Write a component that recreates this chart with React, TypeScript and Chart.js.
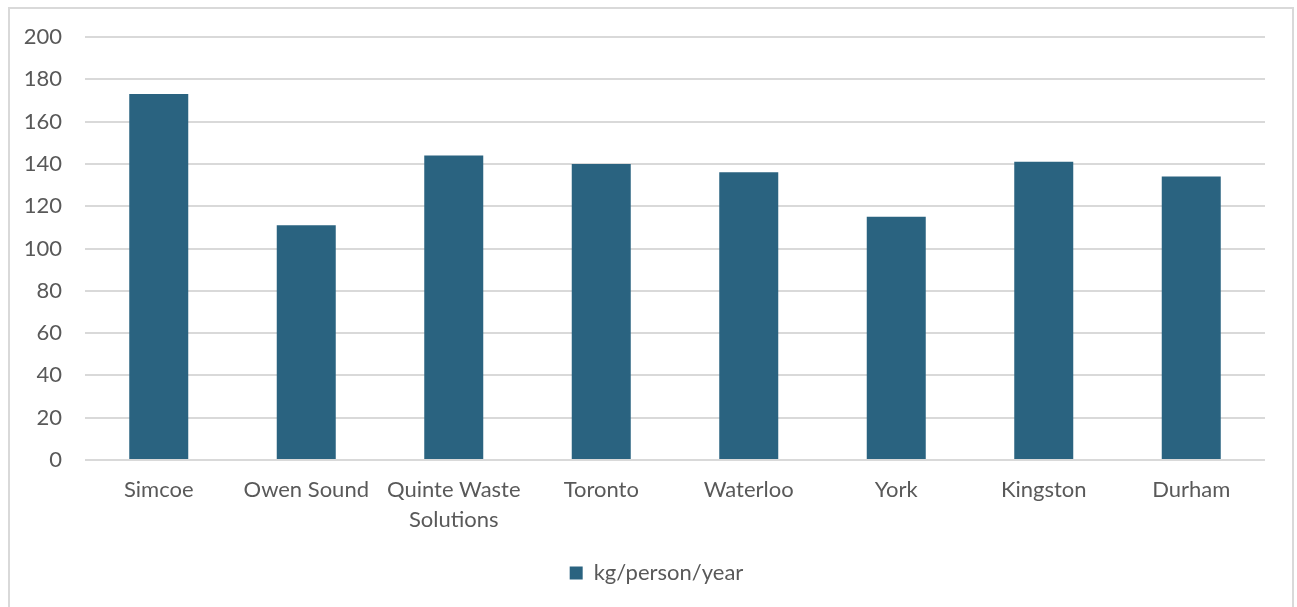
import React, { useEffect, useRef } from "react";
import { Chart, registerables } from "chart.js";

Chart.register(...registerables);

const categories: (string | string[])[] = [
  "Simcoe",
  "Owen Sound",
  ["Quinte Waste", "Solutions"],
  "Toronto",
  "Waterloo",
  "York",
  "Kingston",
  "Durham",
];
const seriesLabel = "kg/person/year";
const values = [173, 111, 144, 140, 136, 115, 141, 134];
const yTicks = [0, 20, 40, 60, 80, 100, 120, 140, 160, 180, 200];

const BAR_COLOR = "#2A6380";
const TEXT_COLOR = "#595959";
const GRID_COLOR = "#D9D9D9";
const FONT = "Lato, 'Open Sans', sans-serif";

const legendShift = {
  id: "legendShift",
  afterLayout(chart: any) {
    const lg = chart.legend;
    if (lg) {
      lg.left += 19;
      lg.right += 19;
    }
  },
};

export default function App() {
  const canvasRef = useRef<HTMLCanvasElement | null>(null);

  useEffect(() => {
    document.body.style.margin = "0";
    document.body.style.overflow = "hidden";
    const ctx = canvasRef.current;
    if (!ctx) return;
    const chart = new Chart(ctx, {
      type: "bar",
      data: {
        labels: categories,
        datasets: [
          {
            label: seriesLabel,
            data: values,
            backgroundColor: BAR_COLOR,
            borderWidth: 0,
            barPercentage: 0.4,
            categoryPercentage: 1,
          },
        ],
      },
      plugins: [legendShift],
      options: {
        animation: false,
        responsive: false,
        maintainAspectRatio: false,
        layout: { padding: { left: 0, right: 27, top: 28, bottom: 13 } },
        plugins: {
          tooltip: { enabled: false },
          legend: {
            position: "bottom",
            labels: {
              color: TEXT_COLOR,
              font: { family: FONT, size: 22 },
              boxWidth: 13,
              boxHeight: 13,
              padding: 10,
            },
          },
        },
        scales: {
          x: {
            grid: { display: false, drawTicks: false },
            border: { display: false },
            ticks: {
              color: TEXT_COLOR,
              font: { family: FONT, size: 22, lineHeight: 1.36 },
              padding: 15,
              maxRotation: 0,
              autoSkip: false,
            },
            afterFit: (s: any) => {
              s.height = 92;
              s.paddingLeft = 0;
              s.paddingRight = 0;
            },
          },
          y: {
            min: 0,
            max: 200,
            afterBuildTicks: (s: any) => {
              s.ticks = yTicks.map((v) => ({ value: v }));
            },
            grid: { color: GRID_COLOR, lineWidth: 2, drawTicks: false },
            border: { display: false },
            ticks: {
              color: TEXT_COLOR,
              font: { family: FONT, size: 22 },
              padding: 23,
            },
            afterFit: (s: any) => {
              s.width = 75;
              s.paddingTop = 0;
              s.paddingBottom = 0;
            },
          },
        },
      },
    });
    return () => chart.destroy();
  }, []);

  return (
    <div
      style={{
        position: "absolute",
        left: 8,
        top: 7,
        width: 1286,
        height: 620,
        boxSizing: "border-box",
        border: "2px solid #D9D9D9",
        background: "#fff",
      }}
    >
      <canvas
        ref={canvasRef}
        width={1282}
        height={598}
        style={{ position: "absolute", left: 0, top: 0, width: 1282, height: 598 }}
      />
    </div>
  );
}
